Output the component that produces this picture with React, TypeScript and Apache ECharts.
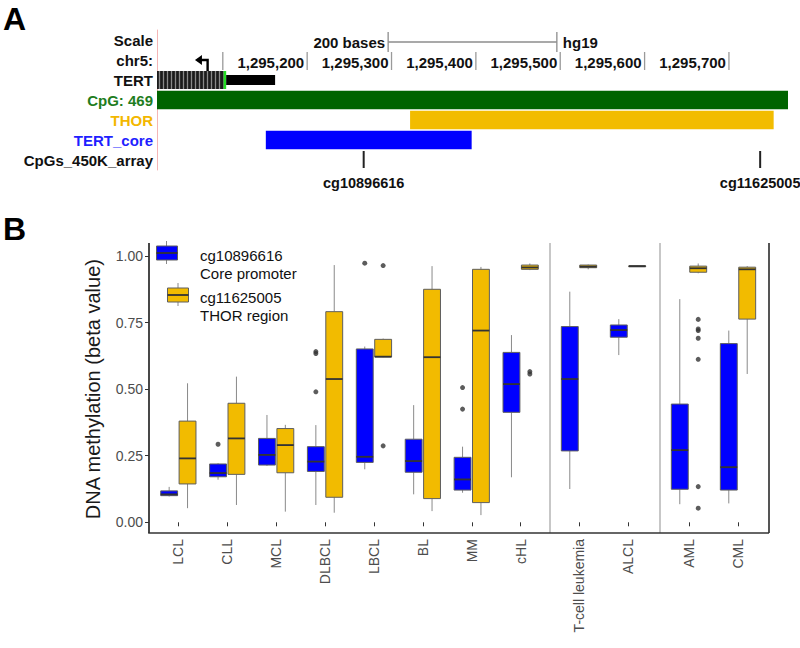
import React, { useEffect, useRef } from "react";
import * as echarts from "echarts";

const FONT = "'Liberation Sans', Arial, Helvetica, sans-serif";

// ---------------- Panel A: genome browser ----------------
const trackNames = ["Scale", "chr5:", "TERT", "CpG: 469", "THOR", "TERT_core", "CpGs_450K_array"];
const trackColors = ["#111111", "#111111", "#111111", "#1e7d1e", "#f3b700", "#1f1fff", "#111111"];
const barColors = ["#000000", "#000000", "#000000", "#006400", "#f2bc00", "#0000ff", "#000000"];
const viewStart = 1295022;
const viewEnd = 1295770;
const rulerTicks = [1295100, 1295200, 1295300, 1295400, 1295500, 1295600, 1295700];
const scaleBar = [1295296, 1295496];
const assembly = "hg19";
const tertArrow = [1295067, 1295082];
const tertHatched = [1295022, 1295101];
const tertTss = [1295101, 1295104];
const tertExon = [1295104, 1295162];
const cpgIsland = [1295022, 1295770];
const thorRegion = [1295322, 1295753];
const tertCore = [1295151, 1295395];
const probeNames = ["cg10896616", "cg11625005"];
const probePositions = [1295267, 1295737];

// ---------------- Panel B: box plots ----------------
const categories = ["LCL", "CLL", "MCL", "DLBCL", "LBCL", "BL", "MM", "cHL", "T-cell leukemia", "ALCL", "AML", "CML"];
const panelOf = [0, 0, 0, 0, 0, 0, 0, 0, 1, 1, 2, 2];

// cg10896616 (core promoter)
const coreMin = [0.097, 0.16, 0.212, 0.065, 0.199, 0.105, 0.111, 0.169, 0.125, 0.628, 0.068, 0.071];
const coreQ1 = [0.1, 0.171, 0.215, 0.191, 0.225, 0.188, 0.121, 0.413, 0.268, 0.695, 0.124, 0.121];
const coreMedian = [0.105, 0.185, 0.253, 0.228, 0.246, 0.23, 0.161, 0.519, 0.538, 0.722, 0.271, 0.207];
const coreQ3 = [0.118, 0.219, 0.315, 0.284, 0.651, 0.312, 0.244, 0.638, 0.735, 0.741, 0.444, 0.671];
const coreMax = [0.133, 0.222, 0.403, 0.365, 0.66, 0.44, 0.284, 0.703, 0.866, 0.763, 0.838, 0.72];
const coreOutlierCat = [1, 3, 3, 3, 4, 6, 6];
const coreOutlierVal = [0.293, 0.641, 0.634, 0.49, 0.973, 0.506, 0.425];

// cg11625005 (THOR region)
const thorMin = [0.053, 0.065, 0.04, 0.036, 0.62, 0.042, 0.027, 0.947, 0.95, 0.96, 0.935, 0.557];
const thorQ1 = [0.144, 0.18, 0.186, 0.094, 0.621, 0.089, 0.074, 0.95, 0.956, 0.961, 0.939, 0.763];
const thorMedian = [0.24, 0.315, 0.29, 0.538, 0.622, 0.62, 0.72, 0.957, 0.96, 0.962, 0.954, 0.95];
const thorQ3 = [0.38, 0.447, 0.352, 0.791, 0.687, 0.875, 0.95, 0.966, 0.966, 0.963, 0.962, 0.958];
const thorMax = [0.522, 0.547, 0.366, 0.966, 0.69, 0.962, 0.959, 0.972, 0.968, 0.964, 0.972, 0.962];
const thorOutlierCat = [4, 4, 7, 7, 10, 10, 10, 10, 10, 10, 10];
const thorOutlierVal = [0.964, 0.287, 0.566, 0.557, 0.762, 0.726, 0.72, 0.691, 0.612, 0.134, 0.053];

const yTicks = [0, 0.25, 0.5, 0.75, 1];
const legendLabels = [["cg10896616", "Core promoter"], ["cg11625005", "THOR region"]];
const seriesColors = ["#0000ff", "#f2bb00"];

// layout
const PANEL_GRIDS = [
  { left: 153.9, width: 391.2 },
  { left: 554.5, width: 98 },
  { left: 664.5, width: 98 },
];
const B_TOP = 256;
const B_HEIGHT = 266.3;
const BOX_OFFSET = 0.188;
const BOX_WIDTH = 0.345;

function boxRender(offsetFrac: number, fill: string) {
  return (params: any, api: any) => {
    const idx = api.value(0);
    const band = api.size([1, 0])[0];
    const cx = api.coord([idx, 0])[0] + offsetFrac * band;
    const w = BOX_WIDTH * band;
    const y = (v: number) => api.coord([idx, v])[1];
    const yMin = y(api.value(1));
    const yQ1 = y(api.value(2));
    const yMed = y(api.value(3));
    const yQ3 = y(api.value(4));
    const yMax = y(api.value(5));
    return {
      type: "group",
      children: [
        { type: "line", shape: { x1: cx, y1: yMax, x2: cx, y2: yQ3 }, style: { stroke: "#8a8a8a", lineWidth: 1 } },
        { type: "line", shape: { x1: cx, y1: yQ1, x2: cx, y2: yMin }, style: { stroke: "#8a8a8a", lineWidth: 1 } },
        {
          type: "rect",
          shape: { x: cx - w / 2, y: yQ3, width: w, height: Math.max(yQ1 - yQ3, 1) },
          style: { fill, stroke: "#5e5e5e", lineWidth: 1 },
        },
        { type: "line", shape: { x1: cx - w / 2, y1: yMed, x2: cx + w / 2, y2: yMed }, style: { stroke: "#333333", lineWidth: 1.8 } },
      ],
    };
  };
}

function buildOption() {
  const fmt = (n: number) => n.toLocaleString("en-US");

  const featureData = [
    [tertHatched[0], tertHatched[1], 2, 0],
    [tertTss[0], tertTss[1], 2, 1],
    [tertExon[0], tertExon[1], 2, 2],
    [cpgIsland[0], cpgIsland[1], 3, 3],
    [thorRegion[0], thorRegion[1], 4, 3],
    [tertCore[0], tertCore[1], 5, 3],
  ];

  const series: any[] = [];

  // ruler
  series.push({
    type: "custom",
    xAxisIndex: 0,
    yAxisIndex: 0,
    data: rulerTicks.map((p) => [p, 1]),
    renderItem: (params: any, api: any) => {
      const c = api.coord([api.value(0), api.value(1)]);
      const children: any[] = [
        { type: "line", shape: { x1: c[0], y1: c[1] - 8, x2: c[0], y2: c[1] + 10 }, style: { stroke: "#9a9a9a", lineWidth: 1.3 } },
      ];
      if (params.dataIndex > 0) {
        children.push({
          type: "text",
          x: c[0] - 3,
          y: c[1] + 2,
          style: { text: fmt(api.value(0)), fill: "#111", fontSize: 15, fontWeight: "bold", fontFamily: FONT, align: "right", verticalAlign: "middle" },
        });
      }
      return { type: "group", children };
    },
  });

  // scale bar
  series.push({
    type: "custom",
    xAxisIndex: 0,
    yAxisIndex: 0,
    data: [[scaleBar[0], scaleBar[1], 0]],
    renderItem: (params: any, api: any) => {
      const s = api.coord([api.value(0), api.value(2)]);
      const e = api.coord([api.value(1), api.value(2)]);
      const yc = s[1] + 2;
      const st = { stroke: "#8c8c8c", lineWidth: 1.3 };
      return {
        type: "group",
        children: [
          { type: "line", shape: { x1: s[0], y1: yc, x2: e[0], y2: yc }, style: st },
          { type: "line", shape: { x1: s[0], y1: yc - 10, x2: s[0], y2: yc + 10 }, style: st },
          { type: "line", shape: { x1: e[0], y1: yc - 10, x2: e[0], y2: yc + 10 }, style: st },
          {
            type: "text",
            x: s[0] - 3,
            y: yc,
            style: { text: api.value(1) - api.value(0) + " bases", fill: "#111", fontSize: 15, fontWeight: "bold", fontFamily: FONT, align: "right", verticalAlign: "middle" },
          },
          {
            type: "text",
            x: e[0] + 6,
            y: yc,
            style: { text: assembly, fill: "#111", fontSize: 15, fontWeight: "bold", fontFamily: FONT, align: "left", verticalAlign: "middle" },
          },
        ],
      };
    },
  });

  // features
  series.push({
    type: "custom",
    xAxisIndex: 0,
    yAxisIndex: 0,
    data: featureData,
    renderItem: (params: any, api: any) => {
      const row = api.value(2);
      const kind = api.value(3);
      const s = api.coord([api.value(0), row]);
      const e = api.coord([api.value(1), row]);
      const h = api.size([0, 1])[1];
      if (kind === 0) {
        const bh = h * 0.9;
        const y0 = s[1] - bh / 2;
        const children: any[] = [
          { type: "rect", shape: { x: s[0], y: y0, width: e[0] - s[0], height: bh }, style: { fill: "#1c1c1c" } },
        ];
        for (let x = s[0] + 2.5; x < e[0] - 1; x += 4) {
          children.push({ type: "line", shape: { x1: x, y1: y0, x2: x, y2: y0 + bh }, style: { stroke: "#8a8a8a", lineWidth: 1.3 } });
        }
        return { type: "group", children };
      }
      if (kind === 1) {
        const bh = h * 0.9;
        return { type: "rect", shape: { x: s[0], y: s[1] - bh / 2, width: Math.max(e[0] - s[0], 2), height: bh }, style: { fill: "#22dd22" } };
      }
      if (kind === 2) {
        const bh = h * 0.5;
        return { type: "rect", shape: { x: s[0], y: s[1] - bh / 2, width: e[0] - s[0], height: bh }, style: { fill: "#000000" } };
      }
      const bh = h * 0.92;
      return { type: "rect", shape: { x: s[0], y: s[1] - bh / 2, width: e[0] - s[0], height: bh }, style: { fill: barColors[row] } };
    },
  });

  // TSS arrow
  series.push({
    type: "custom",
    xAxisIndex: 0,
    yAxisIndex: 0,
    data: [[tertArrow[0], tertArrow[1], 2]],
    renderItem: (params: any, api: any) => {
      const s = api.coord([api.value(0), api.value(2)]);
      const e = api.coord([api.value(1), api.value(2)]);
      const yTop = s[1] - 20;
      return {
        type: "group",
        children: [
          {
            type: "polyline",
            shape: { points: [[e[0], s[1] - 9], [e[0], yTop], [s[0] + 5, yTop]] },
            style: { stroke: "#000", lineWidth: 2.4, fill: null },
          },
          { type: "polygon", shape: { points: [[s[0], yTop], [s[0] + 7, yTop - 5], [s[0] + 7, yTop + 5]] }, style: { fill: "#000" } },
        ],
      };
    },
  });

  // 450K probes
  series.push({
    type: "custom",
    xAxisIndex: 0,
    yAxisIndex: 0,
    data: probePositions.map((p) => [p, 6]),
    renderItem: (params: any, api: any) => {
      const c = api.coord([api.value(0), api.value(1)]);
      return {
        type: "group",
        children: [
          { type: "line", shape: { x1: c[0], y1: c[1] - 9, x2: c[0], y2: c[1] + 8 }, style: { stroke: "#222", lineWidth: 2 } },
          {
            type: "text",
            x: c[0],
            y: c[1] + 23,
            style: { text: probeNames[params.dataIndex], fill: "#111", fontSize: 14.5, fontWeight: "bold", fontFamily: FONT, align: "center", verticalAlign: "middle" },
          },
        ],
      };
    },
  });

  // Panel B
  const panelCats: string[][] = [[], [], []];
  const panelIdx: number[] = [];
  categories.forEach((c, i) => {
    panelIdx.push(panelCats[panelOf[i]].length);
    panelCats[panelOf[i]].push(c);
  });

  const stats = [
    { min: coreMin, q1: coreQ1, med: coreMedian, q3: coreQ3, max: coreMax, oc: coreOutlierCat, ov: coreOutlierVal, off: -BOX_OFFSET },
    { min: thorMin, q1: thorQ1, med: thorMedian, q3: thorQ3, max: thorMax, oc: thorOutlierCat, ov: thorOutlierVal, off: BOX_OFFSET },
  ];

  for (let p = 0; p < 3; p++) {
    const band = PANEL_GRIDS[p].width / panelCats[p].length;
    stats.forEach((st, si) => {
      const data: number[][] = [];
      categories.forEach((c, i) => {
        if (panelOf[i] !== p) return;
        data.push([panelIdx[i], st.min[i], st.q1[i], st.med[i], st.q3[i], st.max[i]]);
      });
      series.push({
        type: "custom",
        xAxisIndex: p + 1,
        yAxisIndex: p + 1,
        data,
        encode: { x: 0, y: [1, 2, 3, 4, 5] },
        renderItem: boxRender(st.off, seriesColors[si]),
        z: 2,
      });
      const out: number[][] = [];
      st.oc.forEach((ci, k) => {
        if (panelOf[ci] === p) out.push([panelIdx[ci], st.ov[k]]);
      });
      if (out.length) {
        series.push({
          type: "scatter",
          xAxisIndex: p + 1,
          yAxisIndex: p + 1,
          data: out,
          symbol: "circle",
          symbolSize: 5,
          symbolOffset: [st.off * band, 0],
          itemStyle: { color: "#333333" },
          z: 3,
        });
      }
    });
  }

  const xAxes: any[] = [{ gridIndex: 0, type: "value", min: viewStart, max: viewEnd, show: false }];
  const yAxes: any[] = [
    {
      gridIndex: 0,
      type: "category",
      data: trackNames,
      inverse: true,
      axisLine: { show: true, lineStyle: { color: "#f4b6b6", width: 1 } },
      axisTick: { show: false },
      splitLine: { show: false },
      axisLabel: {
        margin: 4,
        fontSize: 15,
        fontWeight: "bold",
        fontFamily: FONT,
        color: (v: any, i: number) => trackColors[i],
      },
    },
  ];
  for (let p = 0; p < 3; p++) {
    xAxes.push({
      gridIndex: p + 1,
      type: "category",
      data: panelCats[p],
      offset: 10.7,
      axisLine: { show: false },
      axisTick: { show: true, alignWithLabel: true, length: 4, lineStyle: { color: "#333", width: 1 } },
      axisLabel: { rotate: 90, interval: 0, fontSize: 14, color: "#4d4d4d", fontFamily: FONT, margin: 6 },
      splitLine: { show: false },
    });
    yAxes.push(
      p === 0
        ? {
            gridIndex: 1,
            type: "value",
            min: yTicks[0],
            max: yTicks[yTicks.length - 1],
            interval: yTicks[1] - yTicks[0],
            offset: 4.9,
            axisLine: { show: false },
            axisTick: { show: true, length: 4, lineStyle: { color: "#333", width: 1 } },
            axisLabel: { formatter: (v: number) => v.toFixed(2), fontSize: 14, color: "#4d4d4d", fontFamily: FONT, margin: 6 },
            splitLine: { show: false },
            name: "DNA methylation (beta value)",
            nameLocation: "middle",
            nameGap: 46,
            nameTextStyle: { fontSize: 20, color: "#1a1a1a", fontFamily: FONT },
          }
        : { gridIndex: p + 1, type: "value", min: yTicks[0], max: yTicks[yTicks.length - 1], show: false, splitLine: { show: false } }
    );
  }

  const frameTop = 243;
  const frameBottom = 533;
  const graphic: any[] = [
    { type: "text", x: 3, y: 18.5, style: { text: "A", fontSize: 32, fontWeight: "bold", fontFamily: FONT, fill: "#000", verticalAlign: "middle" } },
    { type: "text", x: 3, y: 228.5, style: { text: "B", fontSize: 32, fontWeight: "bold", fontFamily: FONT, fill: "#000", verticalAlign: "middle" } },
    { type: "line", shape: { x1: 550, y1: frameTop, x2: 550, y2: frameBottom }, style: { stroke: "#b5b5b5", lineWidth: 1.5 } },
    { type: "line", shape: { x1: 660, y1: frameTop, x2: 660, y2: frameBottom }, style: { stroke: "#b5b5b5", lineWidth: 1.5 } },
    { type: "line", shape: { x1: 769, y1: frameTop, x2: 769, y2: frameBottom }, style: { stroke: "#555", lineWidth: 2 } },
    { type: "line", shape: { x1: 149, y1: frameTop, x2: 149, y2: frameBottom }, style: { stroke: "#1a1a1a", lineWidth: 1.6 } },
    { type: "line", shape: { x1: 148.2, y1: frameBottom, x2: 769, y2: frameBottom }, style: { stroke: "#333", lineWidth: 1.6 } },
  ];

  // legend
  const keys = [
    { x: 156.5, y: 246, wx: 166.5 },
    { x: 167.5, y: 288, wx: 178 },
  ];
  keys.forEach((k, i) => {
    graphic.push(
      { type: "line", shape: { x1: k.wx, y1: k.y - 5, x2: k.wx, y2: k.y }, style: { stroke: "#8a8a8a", lineWidth: 1 } },
      { type: "line", shape: { x1: k.wx, y1: k.y + 14, x2: k.wx, y2: k.y + 18 }, style: { stroke: "#8a8a8a", lineWidth: 1 } },
      { type: "rect", shape: { x: k.x, y: k.y, width: 21, height: 14 }, style: { fill: seriesColors[i], stroke: "#5e5e5e", lineWidth: 1 } },
      { type: "line", shape: { x1: k.x, y1: k.y + 7, x2: k.x + 21, y2: k.y + 7 }, style: { stroke: "#333", lineWidth: 1.8 } },
      { type: "text", x: 200, y: k.y + 9, style: { text: legendLabels[i][0], fontSize: 15, fontFamily: FONT, fill: "#111", verticalAlign: "middle" } },
      { type: "text", x: 200, y: k.y + 27, style: { text: legendLabels[i][1], fontSize: 15, fontFamily: FONT, fill: "#111", verticalAlign: "middle" } }
    );
  });

  return {
    animation: false,
    backgroundColor: "#ffffff",
    textStyle: { fontFamily: FONT },
    grid: [
      { left: 157, right: 12, top: 30, height: 140 },
      ...PANEL_GRIDS.map((g) => ({ left: g.left, width: g.width, top: B_TOP, height: B_HEIGHT })),
    ],
    xAxis: xAxes,
    yAxis: yAxes,
    series,
    graphic,
  };
}

export default function App() {
  const ref = useRef<HTMLDivElement>(null);
  useEffect(() => {
    const chart = echarts.init(ref.current as HTMLDivElement, null, { renderer: "svg" });
    chart.setOption(buildOption() as any);
    return () => chart.dispose();
  }, []);
  return <div ref={ref} style={{ position: "absolute", left: 0, top: 0, width: 800, height: 648, background: "#fff" }} />;
}
